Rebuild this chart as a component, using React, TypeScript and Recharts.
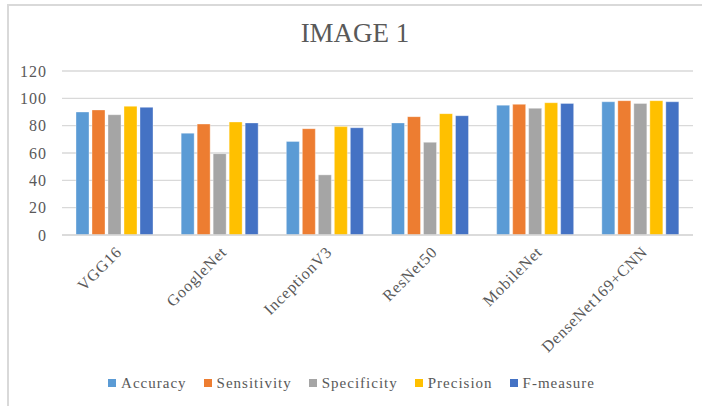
import { BarChart, Bar, XAxis, YAxis, CartesianGrid, Legend } from 'recharts';

const models = ['VGG16', 'GoogleNet', 'InceptionV3', 'ResNet50', 'MobileNet', 'DenseNet169+CNN'];
const accuracy = [90, 74.5, 68.5, 82, 95, 97.5];
const sensitivity = [91.5, 81.2, 77.8, 86.6, 95.6, 98.3];
const specificity = [88, 59.5, 44, 67.8, 92.7, 96.3];
const precision = [94.2, 82.7, 79.3, 88.8, 96.8, 98.3];
const fMeasure = [93.4, 82, 78.5, 87.3, 96.3, 97.5];
const yTicks = [0, 20, 40, 60, 80, 100, 120];

const data = models.map((name, i) => ({
  name,
  Accuracy: accuracy[i],
  Sensitivity: sensitivity[i],
  Specificity: specificity[i],
  Precision: precision[i],
  'F-measure': fMeasure[i],
}));

const series = [
  { key: 'Accuracy', color: '#5B9BD5' },
  { key: 'Sensitivity', color: '#ED7D31' },
  { key: 'Specificity', color: '#A5A5A5' },
  { key: 'Precision', color: '#FFC000' },
  { key: 'F-measure', color: '#4472C4' },
];

const font = '"Liberation Serif", "Times New Roman", serif';
const textColor = '#595959';

// legend in the series order, not sorted
const LegendRow = () => (
  <div
    style={{
      display: 'flex',
      justifyContent: 'center',
      gap: 17,
      height: 20,
      alignItems: 'center',
      fontFamily: font,
      fontSize: 15,
      letterSpacing: 1,
      color: textColor,
      paddingLeft: 10,
    }}
  >
    {series.map((s) => (
      <span key={s.key} style={{ display: 'flex', alignItems: 'center' }}>
        <span style={{ width: 8, height: 8, background: s.color, marginRight: 5 }} />
        {s.key}
      </span>
    ))}
  </div>
);

const App = () => (
  <div
    style={{
      position: 'absolute',
      left: 0,
      top: 0,
      width: 702,
      height: 406,
      background: '#fff',
      overflow: 'hidden',
      fontFamily: font,
    }}
  >
    <div
      style={{
        position: 'absolute',
        left: 7,
        top: 4,
        width: 695,
        height: 402,
        boxSizing: 'border-box',
        borderTop: '2px solid #d9d9d9',
        borderLeft: '2px solid #d9d9d9',
      }}
    />
    <div
      style={{
        position: 'absolute',
        top: 18,
        left: 4,
        width: 702,
        textAlign: 'center',
        fontSize: 27,
        color: textColor,
        fontFamily: font,
        lineHeight: '31px',
      }}
    >
      IMAGE 1
    </div>
    <BarChart
      width={702}
      height={406}
      data={data}
      margin={{ top: 71, right: 9, left: 0, bottom: 13 }}
      barSize={13}
      barGap={3}
      style={{ position: 'absolute', left: 0, top: 0 }}
    >
      <CartesianGrid vertical={false} stroke="#d9d9d9" strokeWidth={1.3} />
      <XAxis
        dataKey="name"
        height={138}
        interval={0}
        tickLine={false}
        axisLine={{ stroke: '#d9d9d9', strokeWidth: 1.5 }}
        angle={-45}
        textAnchor="end"
        tick={{ fill: textColor, fontSize: 16, fontFamily: font, letterSpacing: 0.8 }}
        tickMargin={4}
      />
      <YAxis
        width={62}
        domain={[0, 120]}
        ticks={yTicks}
        tickLine={false}
        axisLine={false}
        tickMargin={9}
        tick={{ fill: textColor, fontSize: 16, fontFamily: font, letterSpacing: 1 }}
      />
      <Legend verticalAlign="bottom" height={20} content={<LegendRow />} />
      {series.map((s) => (
        <Bar
          key={s.key}
          dataKey={s.key}
          fill={s.color}
          stroke="#ffffff"
          strokeOpacity={0.35}
          isAnimationActive={false}
        />
      ))}
    </BarChart>
  </div>
);

export default App;
